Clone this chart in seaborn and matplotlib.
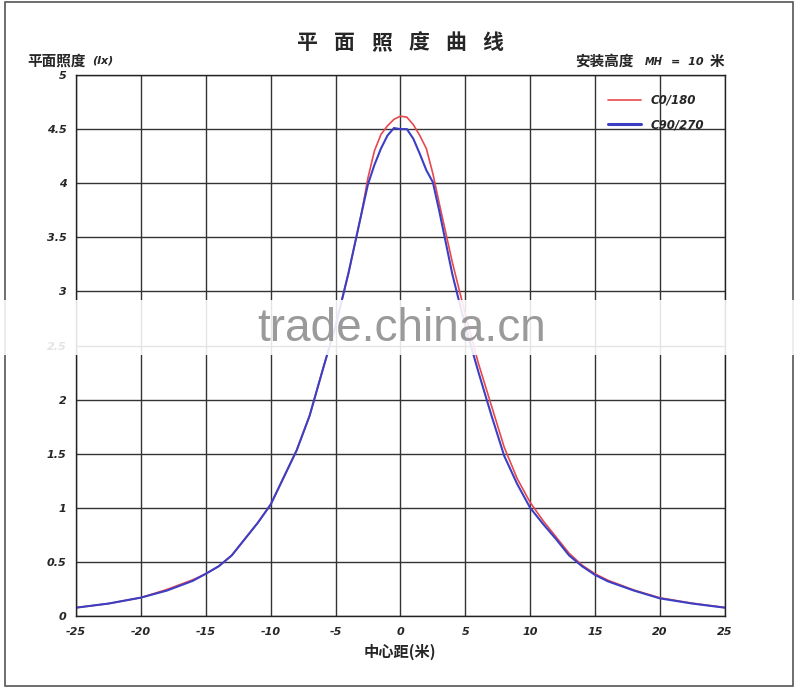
import matplotlib
matplotlib.use("Agg")
import matplotlib.pyplot as plt
import matplotlib.patches as mpatches
import seaborn as sns
import pandas as pd

# distance from centre (m) and illuminance (lx)
dist = [-25, -22.5, -20, -18, -16, -15, -14, -13, -12, -11, -10, -9, -8, -7, -6, -5, -4,
        -3, -2.5, -2, -1.5, -1, -0.5, 0, 0.5, 1, 1.5, 2, 2.5, 3, 4, 5, 6, 7, 8, 9, 10,
        11, 12, 13, 14, 15, 16, 18, 20, 22.5, 25]
c0_180 = [0.077, 0.115, 0.170, 0.245, 0.335, 0.39, 0.46, 0.56, 0.71, 0.86, 1.03, 1.28, 1.53,
          1.85, 2.27, 2.68, 3.17, 3.72, 4.05, 4.30, 4.45, 4.53, 4.59, 4.62, 4.61, 4.54, 4.44,
          4.32, 4.09, 3.81, 3.27, 2.79, 2.34, 1.95, 1.56, 1.27, 1.05, 0.88, 0.73, 0.58, 0.47,
          0.39, 0.33, 0.24, 0.168, 0.118, 0.079]
c90_270 = [0.077, 0.115, 0.170, 0.235, 0.325, 0.39, 0.46, 0.56, 0.71, 0.86, 1.03, 1.28, 1.53,
           1.85, 2.27, 2.68, 3.17, 3.72, 3.99, 4.17, 4.32, 4.44, 4.51, 4.50, 4.50, 4.41, 4.27,
           4.12, 4.01, 3.74, 3.16, 2.68, 2.26, 1.86, 1.48, 1.22, 1.00, 0.85, 0.71, 0.56, 0.46,
           0.38, 0.32, 0.235, 0.163, 0.115, 0.077]
series_names = ["C0/180", "C90/270"]
x_ticks = [-25, -20, -15, -10, -5, 0, 5, 10, 15, 20, 25]
y_ticks = [0, 0.5, 1, 1.5, 2, 2.5, 3, 3.5, 4, 4.5, 5]
title_chars = ["平", "面", "照", "度", "曲", "线"]

df = pd.DataFrame({
    "dist": dist * 2,
    "lux": c0_180 + c90_270,
    "curve": [series_names[0]] * len(dist) + [series_names[1]] * len(dist),
})

sns.set_style("white")
plt.rcParams["font.family"] = ["Noto Sans CJK SC", "DejaVu Sans"]

fig = plt.figure(figsize=(8, 6.92), dpi=100)
ax = fig.add_axes([0.095, 0.1098, 0.811, 0.7818])

sns.lineplot(data=df, x="dist", y="lux", hue="curve",
             palette={"C0/180": "#e8484c", "C90/270": "#3c3fc4"},
             size="curve", sizes={"C0/180": 1.2, "C90/270": 1.5},
             ax=ax, legend=False)

ax.set_xlim(-25, 25)
ax.set_ylim(0, 5)
ax.set_xticks(x_ticks)
ax.set_yticks(y_ticks)
ax.set_xticklabels([str(t) for t in x_ticks])
ax.set_yticklabels([f"{t:g}" for t in y_ticks])
for lab in ax.get_xticklabels() + ax.get_yticklabels():
    lab.set_fontfamily("DejaVu Sans")
    lab.set_fontweight("bold")
    lab.set_fontstyle("italic")
    lab.set_fontsize(8)
ax.tick_params(axis="x", length=0, pad=8)
ax.tick_params(axis="y", length=0, pad=7)
ax.grid(True, color="#333333", linewidth=1.0)
for s in ax.spines.values():
    s.set_color("#222222")
    s.set_linewidth(1.0)
ax.set_xlabel("")
ax.set_ylabel("")

# legend drawn as in the original, frameless at upper right
leg_handles = [plt.Line2D([], [], color="#e8484c", lw=1.2),
               plt.Line2D([], [], color="#3c3fc4", lw=2.2)]
ax.legend(leg_handles, series_names, loc="upper right", frameon=False,
          bbox_to_anchor=(0.985, 0.985), handlelength=2.8, labelspacing=1.0,
          prop={"family": "DejaVu Sans", "weight": "bold", "style": "italic", "size": 8.5})

# spaced-out title
for i, ch in enumerate(title_chars):
    fig.text((307 + 37.2 * i) / 800, 0.938, ch, ha="center", va="center",
             fontsize=15, fontweight="bold")

fig.text(0.034, 0.913, "平面照度", ha="left", va="center", fontsize=10.5, fontweight="bold")
fig.text(0.115, 0.912, "(lx)", ha="left", va="center", fontsize=8,
         fontweight="bold", fontstyle="italic", family="DejaVu Sans")

fig.text(575 / 800, 0.912, "安装高度", ha="left", va="center", fontsize=10.5, fontweight="bold")
fig.text(645 / 800, 0.911, "MH", ha="left", va="center", fontsize=7,
         fontweight="bold", fontstyle="italic", family="DejaVu Sans")
fig.text(671 / 800, 0.911, "=  10", ha="left", va="center", fontsize=8,
         fontweight="bold", fontstyle="italic", family="DejaVu Sans")
fig.text(710 / 800, 0.912, "米", ha="left", va="center", fontsize=10.5, fontweight="bold")

fig.text(0.5, 0.058, "中心距(米)", ha="center", va="center", fontsize=11, fontweight="bold")

# outer frame of the picture
fig.patches.append(mpatches.Rectangle((0.006, 0.009), 0.985, 0.988, transform=fig.transFigure,
                                      fill=False, edgecolor="#555555", linewidth=1.2))

# watermark band
fig.patches.append(mpatches.Rectangle((0.0, 0.487), 1.0, 0.079, transform=fig.transFigure,
                                      facecolor="white", edgecolor="none", alpha=0.88, zorder=5))
fig.text(0.502, 0.525, "trade.china.cn", ha="center", va="center", fontsize=33,
         color="#9a9a9a", family="Liberation Sans", zorder=6)

fig.savefig("out.png", dpi=100)
